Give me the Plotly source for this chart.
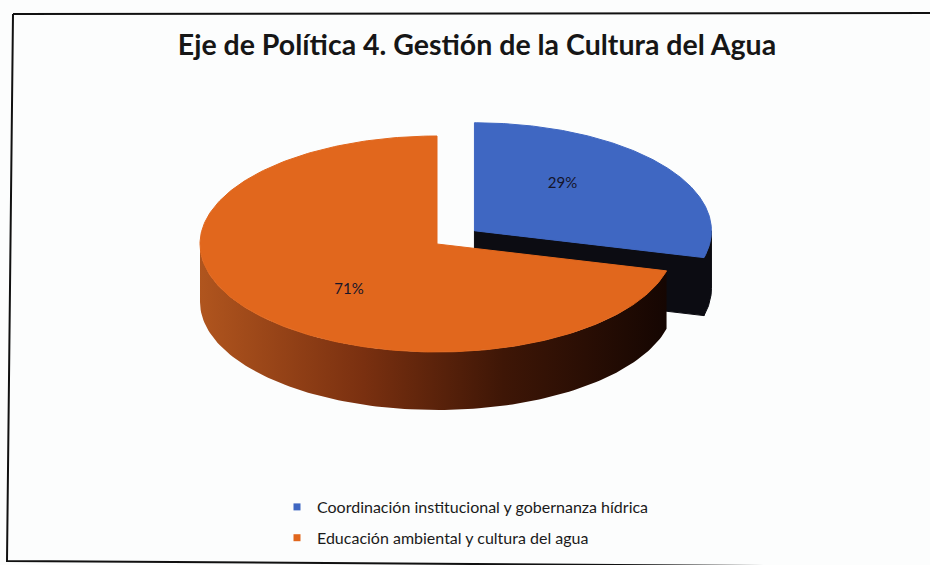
import numpy as np
import plotly.graph_objects as go

# ---- data -------------------------------------------------------------
categories = [
    "Coordinación institucional y gobernanza hídrica",
    "Educación ambiental y cultura del agua",
]
shares = [29, 71]
pct_labels = ["29%", "71%"]

title_text = "Eje de Política 4. Gestión de la Cultura del Agua"

# ---- styling ----------------------------------------------------------
top_colors = ["#3f67c2", "#e1671d"]
side_fills = [
    dict(color="#0c0c12"),
    dict(gradient=[[0.0, "#b0551e"], [0.35, "#7a3010"],
                   [0.65, "#3e1606"], [1.0, "#150602"]]),
]
explode = [0.2, 0.0]

W, H = 930, 565
CX, CY = 437, 244          # centre of the pie's top face (pixel space)
RX, RY = 237, 108          # ellipse radii of the tilted disc
DEPTH = 58                 # thickness of the disc
FONT = "Lato"


def ell(cx, cy, theta_deg, dy=0.0):
    """Points on the tilted disc; angle clockwise from 12 o'clock."""
    t = np.radians(np.asarray(theta_deg, dtype=float))
    return cx + RX * np.sin(t), cy - RY * np.cos(t) + dy


fig = go.Figure()

total = float(sum(shares))
bounds = np.concatenate([[0.0], np.cumsum(shares) / total * 360.0])

slices = []
for i, v in enumerate(shares):
    a0, a1 = bounds[i], bounds[i + 1]
    mid = 0.5 * (a0 + a1)
    ox = explode[i] * RX * np.sin(np.radians(mid))
    oy = -explode[i] * RY * np.cos(np.radians(mid))
    slices.append(dict(i=i, a0=a0, a1=a1, mid=mid, cx=CX + ox, cy=CY + oy))

# paint the slices from back to front
slices.sort(key=lambda s: -np.cos(np.radians(s["mid"])))


def add_poly(xs, ys, fillspec, name):
    kw = dict(x=list(xs) + [xs[0]], y=list(ys) + [ys[0]], mode="lines",
              fill="toself", hoverinfo="skip", showlegend=False, name=name)
    if "gradient" in fillspec:
        kw["fillgradient"] = dict(type="horizontal", colorscale=fillspec["gradient"])
        kw["line"] = dict(width=0)
    else:
        kw["fillcolor"] = fillspec["color"]
        kw["line"] = dict(width=1, color=fillspec["color"])
    fig.add_trace(go.Scatter(**kw))


for s in slices:
    i, a0, a1, cx, cy = s["i"], s["a0"], s["a1"], s["cx"], s["cy"]
    name = categories[i]

    # radial wall at the clockwise end of the slice (visible when facing front)
    if np.cos(np.radians(a1 + 90)) < -1e-6:
        ex, ey = ell(cx, cy, [a1])
        xs = [cx, ex[0], ex[0], cx]
        ys = [cy, ey[0], ey[0] + DEPTH, cy + DEPTH]
        add_poly(xs, ys, side_fills[i], name)
    # radial wall at the counter-clockwise start
    if np.cos(np.radians(a0 - 90)) < -1e-6:
        ex, ey = ell(cx, cy, [a0])
        xs = [cx, ex[0], ex[0], cx]
        ys = [cy, ey[0], ey[0] + DEPTH, cy + DEPTH]
        add_poly(xs, ys, side_fills[i], name)

    # outer rim: only the front half of the disc is visible
    lo, hi = max(a0, 90.0), min(a1, 270.0)
    if hi > lo:
        th = np.linspace(lo, hi, 120)
        tx, ty = ell(cx, cy, th)
        bx, by = ell(cx, cy, th[::-1], DEPTH)
        add_poly(np.concatenate([tx, bx]), np.concatenate([ty, by]),
                 side_fills[i], name)

    # top face
    th = np.linspace(a0, a1, 240)
    tx, ty = ell(cx, cy, th)
    add_poly(np.concatenate([[cx], tx]), np.concatenate([[cy], ty]),
             dict(color=top_colors[i]), name)

# percentage labels on the top faces
for s in sorted(slices, key=lambda s: s["i"]):
    t = np.radians(s["mid"])
    lx = s["cx"] + 0.47 * RX * np.sin(t)
    ly = s["cy"] - 0.70 * RY * np.cos(t)
    fig.add_trace(go.Scatter(
        x=[lx], y=[ly], mode="text", text=[pct_labels[s["i"]]],
        textfont=dict(family=FONT, size=15, color="#15152a"),
        hoverinfo="skip", showlegend=False,
    ))

# legend entries
for i, name in enumerate(categories):
    fig.add_trace(go.Scatter(
        x=[None], y=[None], mode="markers", name=name,
        legendgroup=f"g{i}",
        marker=dict(symbol="square", size=7, color=top_colors[i]),
    ))

# chart frame
fig.add_shape(type="path", path=f"M 13,14 L {W + 5},13", xref="x", yref="y",
              line=dict(color="#111111", width=2))
fig.add_shape(type="path", path="M 13,14 L 7,561 L 935,567", xref="x", yref="y",
              line=dict(color="#111111", width=2))

fig.update_layout(
    width=W, height=H,
    margin=dict(l=0, r=0, t=0, b=0),
    paper_bgcolor="#fcfdfd",
    plot_bgcolor="#fcfdfd",
    title=dict(
        text=f"<b>{title_text}</b>",
        x=477 / W, xanchor="center",
        y=1 - 45 / H, yanchor="middle",
        font=dict(family=FONT, size=28.5, color="#161616"),
    ),
    xaxis=dict(range=[0, W], visible=False, fixedrange=True),
    yaxis=dict(range=[H, 0], visible=False, fixedrange=True),
    showlegend=True,
    legend=dict(
        x=277 / W, xanchor="left",
        y=1 - 490 / H, yanchor="top",
        bgcolor="rgba(0,0,0,0)",
        font=dict(family=FONT, size=16, color="#1a1a1a"),
        traceorder="grouped",
        tracegroupgap=7,
        itemwidth=30,
    ),
)

fig.write_html("out.html")
